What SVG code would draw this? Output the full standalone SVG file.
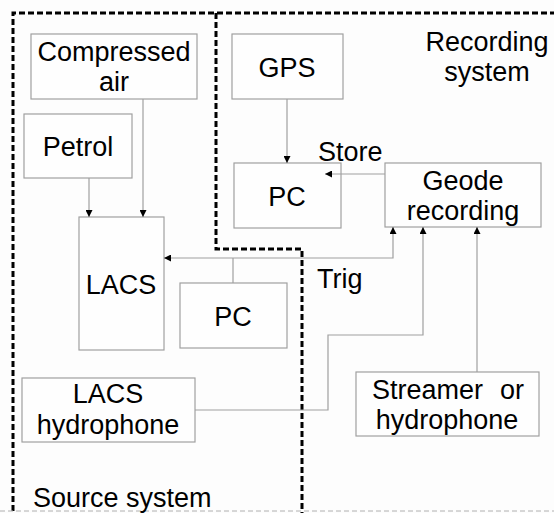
<svg xmlns="http://www.w3.org/2000/svg" width="554" height="513" viewBox="0 0 554 513">
<style>
.box{fill:#fefefe;stroke:#a0a0a0;stroke-width:1.2}
.t{font-family:"Liberation Sans",Arial,sans-serif;font-size:27px;fill:#000;text-anchor:middle}
.tl{font-family:"Liberation Sans",Arial,sans-serif;font-size:27px;fill:#000}
.c{fill:none;stroke:#a0a0a0;stroke-width:1.2}
.sys{fill:none;stroke:#000;stroke-width:3;stroke-dasharray:6 3}
</style>
<defs>
<marker id="ah" viewBox="0 0 10 10" refX="10" refY="5" markerWidth="9" markerHeight="7" markerUnits="userSpaceOnUse" orient="auto">
<path d="M0,0 L10,5 L0,10 Z" fill="#000"/>
</marker>
</defs>
<rect width="554" height="513" fill="#fdfdfd"/>
<g id="systems">
<path class="sys" d="M13,511 V13 H554"/>
<path class="sys" d="M216,13 V249 H302 V513"/>
<line x1="0" y1="511" x2="554" y2="511" stroke="#b0b0b0" stroke-width="1" stroke-dasharray="5 3"/>
</g>
<g id="compressed-air">
<rect class="box" x="31" y="34" width="166" height="65"/>
<text class="t" x="114" y="61">Compressed</text>
<text class="t" x="114" y="91">air</text>
</g>
<g id="petrol">
<rect class="box" x="24" y="114" width="108" height="64"/>
<text class="t" x="78" y="156">Petrol</text>
</g>
<g id="lacs">
<rect class="box" x="79" y="217" width="85" height="133"/>
<text class="t" x="121" y="294">LACS</text>
</g>
<g id="pc-source">
<rect class="box" x="180" y="283" width="107" height="65"/>
<text class="t" x="233" y="326">PC</text>
</g>
<g id="lacs-hydrophone">
<rect class="box" x="22" y="378" width="173" height="64"/>
<text class="t" x="108" y="403">LACS</text>
<text class="t" x="108" y="434">hydrophone</text>
</g>
<g id="gps">
<rect class="box" x="232" y="34" width="111" height="65"/>
<text class="t" x="287" y="77">GPS</text>
</g>
<g id="pc-recording">
<rect class="box" x="234" y="163" width="107" height="65"/>
<text class="t" x="287" y="206">PC</text>
</g>
<g id="geode">
<rect class="box" x="385" y="163" width="156" height="64"/>
<text class="t" x="463" y="190">Geode</text>
<text class="t" x="463" y="220">recording</text>
</g>
<g id="streamer">
<rect class="box" x="356" y="372" width="183" height="64"/>
<text class="tl" x="372" y="399">Streamer</text>
<text class="tl" x="500" y="399">or</text>
<text class="t" x="447" y="429">hydrophone</text>
</g>
<g id="connectors">
<line class="c" x1="143" y1="99" x2="143" y2="217" marker-end="url(#ah)"/>
<line class="c" x1="89" y1="178" x2="89" y2="217" marker-end="url(#ah)"/>
<line class="c" x1="287" y1="99" x2="287" y2="163" marker-end="url(#ah)"/>
<line class="c" x1="385" y1="174" x2="325" y2="174" marker-end="url(#ah)"/>
<polyline class="c" points="233,258 164,258" marker-end="url(#ah)"/>
<polyline class="c" points="233,258 393,258 393,227" marker-end="url(#ah)"/>
<line class="c" x1="233" y1="258" x2="233" y2="283"/>
<polyline class="c" points="195,410 328,410 328,335 423,335 423,227" marker-end="url(#ah)"/>
<line class="c" x1="477" y1="372" x2="477" y2="227" marker-end="url(#ah)"/>
</g>
<g id="labels">
<text class="t" x="487" y="51">Recording</text>
<text class="t" x="487" y="81">system</text>
<text class="tl" x="318" y="161">Store</text>
<text class="tl" x="317" y="288">Trig</text>
<text class="tl" x="33" y="507">Source system</text>
</g>
</svg>
